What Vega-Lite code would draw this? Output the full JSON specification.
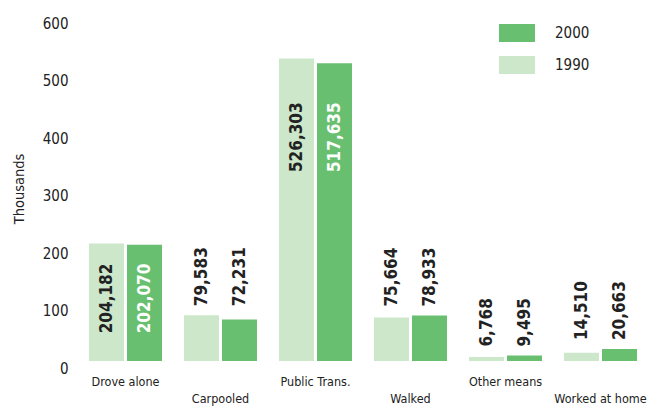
{
  "$schema": "https://vega.github.io/schema/vega-lite/v6.json",
  "autosize": {"type": "none"},
  "padding": {"left": 78, "top": 16, "right": 0, "bottom": 55},
  "width": 570,
  "height": 345,
  "background": "white",
  "config": {
    "view": {"stroke": null},
    "font": "DejaVu Sans Condensed, sans-serif"
  },
  "data": {
    "values": [
      {"mode": "Drove alone", "year": "1990", "count": 204182},
      {"mode": "Drove alone", "year": "2000", "count": 202070},
      {"mode": "Carpooled", "year": "1990", "count": 79583},
      {"mode": "Carpooled", "year": "2000", "count": 72231},
      {"mode": "Public Trans.", "year": "1990", "count": 526303},
      {"mode": "Public Trans.", "year": "2000", "count": 517635},
      {"mode": "Walked", "year": "1990", "count": 75664},
      {"mode": "Walked", "year": "2000", "count": 78933},
      {"mode": "Other means", "year": "1990", "count": 6768},
      {"mode": "Other means", "year": "2000", "count": 9495},
      {"mode": "Worked at home", "year": "1990", "count": 14510},
      {"mode": "Worked at home", "year": "2000", "count": 20663}
    ]
  },
  "transform": [
    {"joinaggregate": [{"op": "max", "field": "count", "as": "gmax"}], "groupby": ["mode"]}
  ],
  "encoding": {
    "x": {
      "field": "mode",
      "type": "nominal",
      "sort": null,
      "scale": {"paddingInner": 0.2316, "paddingOuter": 0.1158},
      "axis": {
        "title": null,
        "labelAngle": 0,
        "ticks": false,
        "domain": false,
        "labelFontSize": 12.5,
        "labelColor": "#222",
        "labelOverlap": false,
        "labelBaseline": "top",
        "labelPadding": {"condition": {"test": "indexof(['Carpooled','Walked','Worked at home'], datum.value) >= 0", "value": 31}, "value": 14}
      }
    },
    "xOffset": {
      "field": "year",
      "type": "nominal",
      "sort": ["1990", "2000"],
      "scale": {"paddingInner": 0.079, "paddingOuter": 0}
    }
  },
  "layer": [
    {
      "mark": {"type": "bar"},
      "encoding": {
        "y": {
          "field": "count",
          "type": "quantitative",
          "scale": {"domain": [0, 600000], "nice": false},
          "axis": {
            "title": "Thousands",
            "titleFontSize": 14.5,
            "titleFontWeight": "normal",
            "titleColor": "#222",
            "titlePadding": 16,
            "values": [0, 100000, 200000, 300000, 400000, 500000, 600000],
            "labelExpr": "format(datum.value / 1000, 'd')",
            "labelFontSize": 15,
            "labelColor": "#222",
            "labelOffset": 7,
            "labelPadding": 10,
            "ticks": false,
            "domain": false,
            "grid": false
          }
        },
        "color": {
          "field": "year",
          "type": "nominal",
          "scale": {"domain": ["2000", "1990"], "range": ["#68bf6f", "#cce7ca"]},
          "legend": {
            "title": null,
            "orient": "none",
            "legendX": 421,
            "legendY": -1,
            "symbolType": "M-1,-0.5H1V0.5H-1Z",
            "symbolSize": 1296,
            "symbolStrokeWidth": 0,
            "symbolOpacity": 1,
            "rowPadding": 5,
            "labelOffset": 20,
            "labelFontSize": 15,
            "labelColor": "#222"
          }
        }
      }
    },
    {
      "transform": [{"filter": "datum.mode !== 'Drove alone' && datum.mode !== 'Public Trans.'"}],
      "mark": {"type": "text", "angle": 270, "align": "left", "baseline": "middle", "dx": 9, "fontSize": 17, "fontWeight": "bold", "color": "#222"},
      "encoding": {
        "y": {"field": "gmax", "type": "quantitative"},
        "text": {"field": "count", "type": "quantitative", "format": ",d"}
      }
    },
    {
      "transform": [{"filter": "datum.mode === 'Drove alone'"}],
      "mark": {"type": "text", "angle": 270, "align": "right", "baseline": "middle", "dx": -20, "fontSize": 17, "fontWeight": "bold"},
      "encoding": {
        "y": {"field": "gmax", "type": "quantitative"},
        "text": {"field": "count", "type": "quantitative", "format": ",d"},
        "color": {"condition": {"test": "datum.year === '2000'", "value": "white"}, "value": "#222"}
      }
    },
    {
      "transform": [{"filter": "datum.mode === 'Public Trans.'"}],
      "mark": {"type": "text", "angle": 270, "align": "right", "baseline": "middle", "dx": -44, "fontSize": 17, "fontWeight": "bold"},
      "encoding": {
        "y": {"field": "gmax", "type": "quantitative"},
        "text": {"field": "count", "type": "quantitative", "format": ",d"},
        "color": {"condition": {"test": "datum.year === '2000'", "value": "white"}, "value": "#222"}
      }
    }
  ]
}
